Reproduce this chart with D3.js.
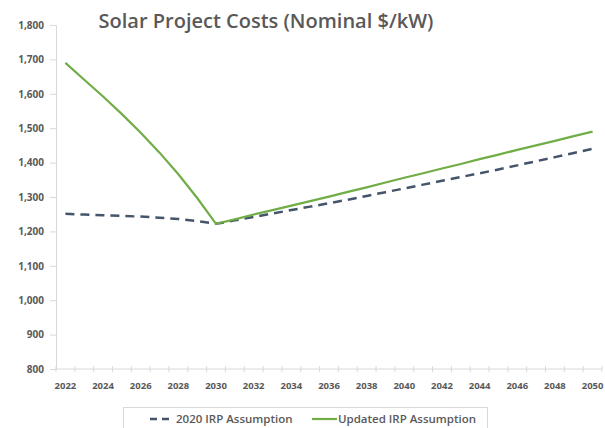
<!DOCTYPE html>
<html lang="en">
<head>
    <meta charset="UTF-8">
    <title>Solar Project Costs</title>
    <style>
        body { margin: 0; background: #fff; }
        text { font-family: "Open Sans", sans-serif; }
    </style>
</head>
<body>
    <script src="https://d3js.org/d3.v7.min.js"></script>
    <script>
        // data
        const years = d3.range(2022, 2051);
        const irp2020 = [1251, 1249, 1247, 1245, 1243, 1240, 1236, 1230, 1222,
            1232, 1242, 1252, 1262, 1272, 1282, 1292, 1303, 1314, 1325,
            1336, 1347, 1358, 1369, 1380, 1392, 1404, 1416, 1428, 1440];
        const updated = [1690, 1641, 1592, 1541, 1487, 1429, 1366, 1297, 1222,
            1235, 1249, 1262, 1275, 1288, 1301, 1315, 1328, 1342, 1356,
            1369, 1383, 1396, 1410, 1423, 1437, 1450, 1463, 1477, 1490];
        const yTicks = [800, 900, 1000, 1100, 1200, 1300, 1400, 1500, 1600, 1700, 1800];
        const seriesNames = ['2020 IRP Assumption', 'Updated IRP Assumption'];

        const width = 605,
            height = 428,
            plotLeft = 56, plotRight = 602, plotTop = 25, plotBottom = 369,
            grey = '#595959',
            svg = d3.select('body').append('svg')
                .attr('width', width).attr('height', height);

        const x = d3.scaleBand().domain(years).range([plotLeft, plotRight]);
        const y = d3.scaleLinear().domain([800, 1800]).range([plotBottom, plotTop]);

        // title
        svg.append('text')
            .attr('x', 266).attr('y', 28)
            .attr('text-anchor', 'middle')
            .attr('font-size', 20)
            .attr('font-weight', 600)
            .attr('fill', grey)
            .text('Solar Project Costs (Nominal $/kW)');

        // y axis
        const yAxis = svg.append('g')
            .attr('transform', `translate(${plotLeft},0)`)
            .call(d3.axisLeft(y).tickValues(yTicks).tickFormat(d3.format(',')).tickSize(6).tickPadding(6));
        yAxis.select('.domain').attr('stroke', '#d9d9d9');
        yAxis.selectAll('.tick line').attr('stroke', '#d9d9d9');
        yAxis.selectAll('text')
            .attr('fill', grey).attr('font-size', 10).attr('font-weight', 'bold')
            .style('font-family', '"Open Sans", sans-serif');

        // x axis, ticks between categories
        const xAxis = svg.append('g').attr('transform', `translate(0,${plotBottom})`);
        xAxis.append('line')
            .attr('x1', plotLeft).attr('x2', plotRight)
            .attr('stroke', '#d9d9d9');
        xAxis.selectAll('line.tk')
            .data(years.concat([2051]))
            .enter().append('line')
            .attr('class', 'tk')
            .attr('x1', d => plotLeft + (d - 2022) * x.step())
            .attr('x2', d => plotLeft + (d - 2022) * x.step())
            .attr('y1', -3).attr('y2', 3)
            .attr('stroke', '#d9d9d9');
        xAxis.selectAll('text')
            .data(years.filter(d => d % 2 === 0))
            .enter().append('text')
            .attr('x', d => x(d) + x.bandwidth() / 2)
            .attr('y', 20)
            .attr('text-anchor', 'middle')
            .attr('fill', grey).attr('font-size', 9.5).attr('font-weight', 'bold')
            .text(d => d);

        // lines
        const line = d3.line()
            .x((d, i) => x(years[i]) + x.bandwidth() / 2)
            .y(d => y(d));

        svg.append('path')
            .datum(irp2020)
            .attr('d', line)
            .attr('fill', 'none')
            .attr('stroke', '#44546a')
            .attr('stroke-width', 2.5)
            .attr('stroke-dasharray', '9,6');

        svg.append('path')
            .datum(updated)
            .attr('d', line)
            .attr('fill', 'none')
            .attr('stroke', '#70ad47')
            .attr('stroke-width', 2.2);

        // legend
        const lg = svg.append('g');
        lg.append('rect')
            .attr('x', 123.5).attr('y', 407.5)
            .attr('width', 364).attr('height', 30)
            .attr('fill', '#fff').attr('stroke', '#d9d9d9');

        lg.append('line')
            .attr('x1', 150).attr('x2', 173).attr('y1', 419).attr('y2', 419)
            .attr('stroke', '#44546a').attr('stroke-width', 2.5)
            .attr('stroke-dasharray', '7,5');
        lg.append('text')
            .attr('x', 176).attr('y', 423)
            .attr('font-size', 11.5).attr('font-weight', 600).attr('fill', grey)
            .text(seriesNames[0]);

        lg.append('line')
            .attr('x1', 312).attr('x2', 337).attr('y1', 419).attr('y2', 419)
            .attr('stroke', '#70ad47').attr('stroke-width', 2.2);
        lg.append('text')
            .attr('x', 338).attr('y', 423)
            .attr('font-size', 11.5).attr('font-weight', 600).attr('fill', grey)
            .text(seriesNames[1]);
    </script>
</body>
</html>
